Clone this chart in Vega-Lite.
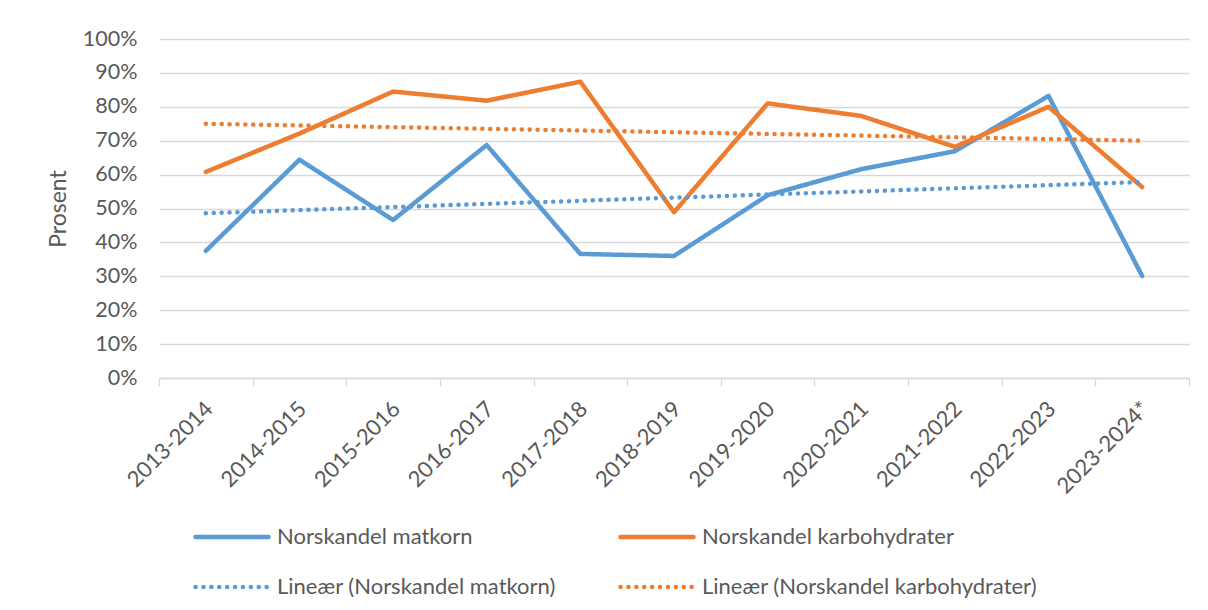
{
  "$schema": "https://vega.github.io/schema/vega-lite/v6.json",
  "width": 1030,
  "height": 339,
  "autosize": {"type": "none"},
  "padding": {"left": 159, "top": 39, "right": 19, "bottom": 232},
  "background": "white",
  "config": {"view": {"stroke": null}, "font": "Lato"},
  "data": {
    "values": [
      {"periode": "2013-2014", "serie": "Norskandel matkorn", "andel": 0.375},
      {"periode": "2014-2015", "serie": "Norskandel matkorn", "andel": 0.644},
      {"periode": "2015-2016", "serie": "Norskandel matkorn", "andel": 0.466},
      {"periode": "2016-2017", "serie": "Norskandel matkorn", "andel": 0.687},
      {"periode": "2017-2018", "serie": "Norskandel matkorn", "andel": 0.366},
      {"periode": "2018-2019", "serie": "Norskandel matkorn", "andel": 0.360},
      {"periode": "2019-2020", "serie": "Norskandel matkorn", "andel": 0.539},
      {"periode": "2020-2021", "serie": "Norskandel matkorn", "andel": 0.616},
      {"periode": "2021-2022", "serie": "Norskandel matkorn", "andel": 0.669},
      {"periode": "2022-2023", "serie": "Norskandel matkorn", "andel": 0.832},
      {"periode": "2023-2024*", "serie": "Norskandel matkorn", "andel": 0.301},
      {"periode": "2013-2014", "serie": "Norskandel karbohydrater", "andel": 0.608},
      {"periode": "2014-2015", "serie": "Norskandel karbohydrater", "andel": 0.721},
      {"periode": "2015-2016", "serie": "Norskandel karbohydrater", "andel": 0.845},
      {"periode": "2016-2017", "serie": "Norskandel karbohydrater", "andel": 0.818},
      {"periode": "2017-2018", "serie": "Norskandel karbohydrater", "andel": 0.874},
      {"periode": "2018-2019", "serie": "Norskandel karbohydrater", "andel": 0.489},
      {"periode": "2019-2020", "serie": "Norskandel karbohydrater", "andel": 0.810},
      {"periode": "2020-2021", "serie": "Norskandel karbohydrater", "andel": 0.773},
      {"periode": "2021-2022", "serie": "Norskandel karbohydrater", "andel": 0.682},
      {"periode": "2022-2023", "serie": "Norskandel karbohydrater", "andel": 0.800},
      {"periode": "2023-2024*", "serie": "Norskandel karbohydrater", "andel": 0.563},
      {"periode": "2013-2014", "serie": "Lineær (Norskandel matkorn)", "andel": 0.486},
      {"periode": "2023-2024*", "serie": "Lineær (Norskandel matkorn)", "andel": 0.578},
      {"periode": "2013-2014", "serie": "Lineær (Norskandel karbohydrater)", "andel": 0.750},
      {"periode": "2023-2024*", "serie": "Lineær (Norskandel karbohydrater)", "andel": 0.700}
    ]
  },
  "mark": {"type": "line", "strokeCap": "round", "strokeJoin": "round"},
  "encoding": {
    "x": {
      "field": "periode",
      "type": "nominal",
      "bandPosition": 0.5,
      "scale": {
        "type": "band",
        "paddingInner": 0,
        "paddingOuter": 0,
        "domain": ["2013-2014", "2014-2015", "2015-2016", "2016-2017", "2017-2018", "2018-2019", "2019-2020", "2020-2021", "2021-2022", "2022-2023", "2023-2024*"]
      },
      "axis": {
        "title": null,
        "labelAngle": -45,
        "labelAlign": "right",
        "labelBaseline": "middle",
        "labelFont": "Lato",
        "labelFontSize": 22,
        "labelColor": "#595959",
        "labelPadding": 19,
        "labelOffset": 3,
        "tickBand": "extent",
        "ticks": true,
        "tickSize": 8,
        "tickColor": "#d9d9d9",
        "tickWidth": 1.3,
        "domainColor": "#d9d9d9",
        "domainWidth": 1.3,
        "grid": false
      }
    },
    "y": {
      "field": "andel",
      "type": "quantitative",
      "scale": {"domain": [0, 1]},
      "axis": {
        "values": [0, 0.1, 0.2, 0.3, 0.4, 0.5, 0.6, 0.7, 0.8, 0.9, 1],
        "format": ".0%",
        "title": "Prosent",
        "titleFont": "Lato",
        "titleFontSize": 23,
        "titleFontWeight": "normal",
        "titleColor": "#595959",
        "titlePadding": 12,
        "labelFont": "Lato",
        "labelFontSize": 21.5,
        "labelColor": "#595959",
        "labelPadding": 22,
        "domain": false,
        "ticks": false,
        "gridColor": "#d9d9d9",
        "gridWidth": 1.3
      }
    },
    "color": {
      "field": "serie",
      "type": "nominal",
      "scale": {
        "domain": ["Norskandel matkorn", "Norskandel karbohydrater", "Lineær (Norskandel matkorn)", "Lineær (Norskandel karbohydrater)"],
        "range": ["#5B9BD5", "#ED7D31", "#5B9BD5", "#ED7D31"]
      },
      "legend": {
        "title": null,
        "orient": "none",
        "direction": "horizontal",
        "legendX": 34,
        "legendY": 459,
        "columns": 2,
        "symbolType": "stroke",
        "symbolSize": 5329,
        "labelFont": "Lato",
        "labelFontSize": 22,
        "labelColor": "#595959",
        "labelOffset": 6,
        "columnPadding": 55,
        "rowPadding": -28,
        "labelLimit": 600,
        "encode": {"symbols": {"update": {"strokeCap": {"value": "round"}}}}
      }
    },
    "strokeDash": {
      "field": "serie",
      "type": "nominal",
      "scale": {
        "domain": ["Norskandel matkorn", "Norskandel karbohydrater", "Lineær (Norskandel matkorn)", "Lineær (Norskandel karbohydrater)"],
        "range": [[1, 0], [1, 0], [0.1, 7.8], [0.1, 7.8]]
      }
    },
    "strokeWidth": {
      "field": "serie",
      "type": "nominal",
      "scale": {
        "domain": ["Norskandel matkorn", "Norskandel karbohydrater", "Lineær (Norskandel matkorn)", "Lineær (Norskandel karbohydrater)"],
        "range": [4.5, 4.5, 3, 3]
      }
    }
  }
}
